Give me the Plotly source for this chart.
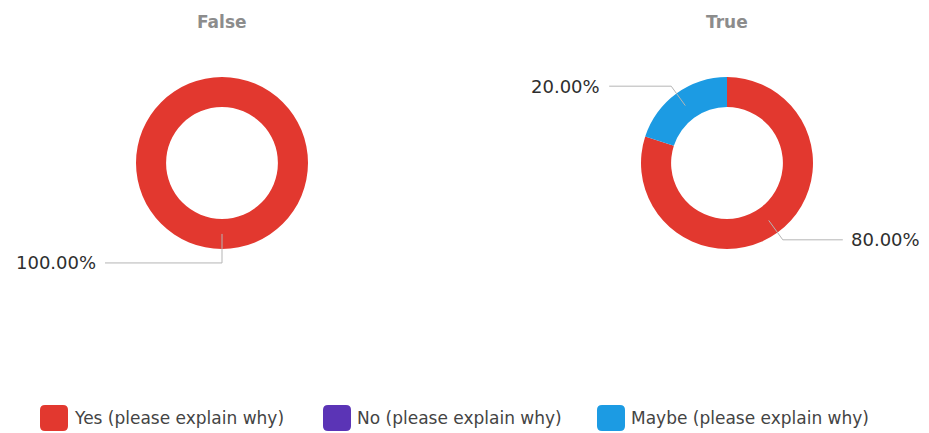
import math
import plotly.graph_objects as go

W, H = 929, 433

# Data
categories = ["Yes (please explain why)", "No (please explain why)", "Maybe (please explain why)"]
panel_titles = ["False", "True"]
values_false = [100, 0, 0]
values_true = [80, 0, 20]
colors = ["#e2382f", "#5b34b6", "#1c9be3"]

# Layout of each donut (pixels)
centers_px = [(222, 163), (727, 163)]
radius_px = 86
hole = 0.65
legend_x_px = [40, 323, 597]
legend_y_px = 418

FONT = "DejaVu Sans"


def px_to_paper(x, y):
    return x / W, 1 - y / H


fig = go.Figure()
for i, (vals, (cx, cy)) in enumerate(zip([values_false, values_true], centers_px)):
    x0, y_top = px_to_paper(cx - 200, cy - radius_px)
    x1, y_bot = px_to_paper(cx + 200, cy + radius_px)
    fig.add_trace(go.Pie(
        labels=categories,
        values=vals,
        hole=hole,
        sort=False,
        direction="clockwise",
        rotation=0,
        marker=dict(colors=colors, line=dict(width=0)),
        textinfo="none",
        hoverinfo="label+percent",
        showlegend=False,
        domain=dict(x=[x0, x1], y=[y_bot, y_top]),
    ))
    tx, ty = px_to_paper(cx, 22)
    fig.add_annotation(x=tx, y=ty, xref="paper", yref="paper", text=f"<b>{panel_titles[i]}</b>",
                       showarrow=False, xanchor="center", yanchor="middle",
                       font=dict(size=17, color="#8c8c8c", family=FONT))

    # Leader lines and percentage labels, placed from the slice mid-angles
    total = sum(vals)
    start = 0.0
    for v in vals:
        if v == 0:
            continue
        frac = v / total
        mid = (start + frac / 2) * 2 * math.pi  # clockwise from 12 o'clock
        start += frac
        rmid = radius_px * (1 + hole) / 2
        sx, sy = math.sin(mid), -math.cos(mid)
        px = cx + rmid * sx
        py = cy + rmid * sy
        if abs(sx) < 1e-6:
            # straight down, then off to the left
            ex, ey = px, py + 29
            hx = ex - 117
        else:
            ex = px + sx * 24
            ey = py + sy * 24
            hx = ex + (60 if sx > 0 else -62)
        pts = [(px, py), (ex, ey), (hx, ey)]
        for (ax, ay), (bx, by) in zip(pts[:-1], pts[1:]):
            a = px_to_paper(ax, ay)
            b = px_to_paper(bx, by)
            fig.add_shape(type="line", xref="paper", yref="paper",
                          x0=a[0], y0=a[1], x1=b[0], y1=b[1],
                          line=dict(color="#b5b5b5", width=1))
        right = hx > ex
        lx, ly = px_to_paper(hx + (6 if right else -7), ey)
        fig.add_annotation(x=lx, y=ly, xref="paper", yref="paper", text=f"{frac * 100:.2f}%",
                           showarrow=False, xanchor="left" if right else "right", yanchor="middle",
                           font=dict(size=18, color="#2e2e2e", family=FONT))


def to_paper_path(path):
    out = []
    for tok in path.split(" "):
        if "," in tok:
            a, b = tok.split(",")
            X, Y = px_to_paper(float(a), float(b))
            out.append(f"{X:.5f},{Y:.5f}")
        else:
            out.append(tok)
    return " ".join(out)


# Legend: rounded swatches with labels
sw_w, sw_h, rr = 28, 26, 5
for name, col, lx in zip(categories, colors, legend_x_px):
    x0, x1 = lx, lx + sw_w
    y0, y1 = legend_y_px - sw_h / 2, legend_y_px + sw_h / 2
    path = (f"M {x0 + rr},{y0} L {x1 - rr},{y0} Q {x1},{y0} {x1},{y0 + rr} "
            f"L {x1},{y1 - rr} Q {x1},{y1} {x1 - rr},{y1} L {x0 + rr},{y1} "
            f"Q {x0},{y1} {x0},{y1 - rr} L {x0},{y0 + rr} Q {x0},{y0} {x0 + rr},{y0} Z")
    fig.add_shape(type="path", xref="paper", yref="paper", path=to_paper_path(path),
                  fillcolor=col, line=dict(width=0))
    tx, ty = px_to_paper(lx + sw_w + 4, legend_y_px)
    fig.add_annotation(x=tx, y=ty, xref="paper", yref="paper", text=name, showarrow=False,
                       xanchor="left", yanchor="middle",
                       font=dict(size=17, color="#444444", family=FONT))

fig.update_layout(
    width=W, height=H,
    margin=dict(l=0, r=0, t=0, b=0),
    paper_bgcolor="white",
    plot_bgcolor="white",
    showlegend=False,
)

fig.write_html("out.html")
